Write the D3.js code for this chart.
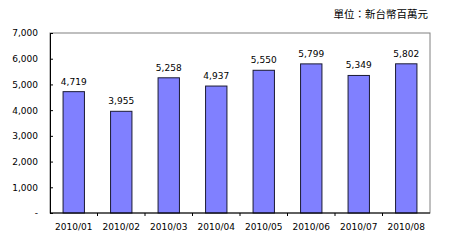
<!DOCTYPE html>
<html>
<head>
<meta charset="utf-8">
<script src="https://cdn.jsdelivr.net/npm/d3@7"></script>
<style>
  body { margin: 0; background: #fff; }
  text { font-family: "DejaVu Sans", sans-serif; font-size: 9px; fill: #000; }
</style>
</head>
<body>
<svg id="chart" width="453" height="247"></svg>
<script>
// ── Data ─────────────────────────────────────────────
const months = ['2010/01', '2010/02', '2010/03', '2010/04', '2010/05', '2010/06', '2010/07', '2010/08'];
const values = [4719, 3955, 5258, 4937, 5550, 5799, 5349, 5802];
const yTicks = [0, 1000, 2000, 3000, 4000, 5000, 6000, 7000];
const unitLabel = '單位：新台幣百萬元';

const svg = d3.select('#chart');
const m = { left: 50, top: 33, right: 430, bottom: 213 };

const x = d3.scaleBand().domain(months).range([m.left, m.right]).paddingInner(0.55).paddingOuter(0.275);
const xOuter = d3.scaleBand().domain(months).range([m.left, m.right]);
const y = d3.scaleLinear().domain([0, 7000]).range([m.bottom, m.top]);

// plot frame
svg.append('rect')
  .attr('x', m.left).attr('y', m.top)
  .attr('width', m.right - m.left).attr('height', m.bottom - m.top)
  .attr('fill', 'none').attr('stroke', '#808080').attr('stroke-width', 1);

// bars
svg.selectAll('.bar')
  .data(values)
  .enter()
  .append('rect')
  .attr('x', (d, i) => x(months[i]))
  .attr('y', d => y(d))
  .attr('width', x.bandwidth())
  .attr('height', d => y(0) - y(d))
  .attr('fill', '#8080ff')
  .attr('stroke', '#1a1a33')
  .attr('stroke-width', 1);

// value labels
svg.selectAll('.val')
  .data(values)
  .enter()
  .append('text')
  .attr('x', (d, i) => x(months[i]) + x.bandwidth() / 2)
  .attr('y', d => y(d) - 7)
  .attr('text-anchor', 'middle')
  .text(d => d3.format(',')(d));

// y axis (small inward ticks)
const yAxis = d3.axisLeft(y).tickValues(yTicks).tickSizeInner(-3).tickSizeOuter(0).tickPadding(12)
  .tickFormat(d => d === 0 ? '-' : d3.format(',')(d));
const gy = svg.append('g').attr('transform', `translate(${m.left},0)`).call(yAxis);
gy.select('.domain').attr('stroke', '#000');
gy.selectAll('.tick line').attr('stroke', '#000');
gy.selectAll('text').style('font-family', '"DejaVu Sans", sans-serif').style('font-size', '9px');

// x axis: labels centered, ticks at category boundaries
const gx = svg.append('g').attr('transform', `translate(0,${m.bottom})`);
gx.append('line')
  .attr('x1', m.left).attr('x2', m.right)
  .attr('stroke', '#000');
gx.selectAll('.xt')
  .data(months.slice(1))
  .enter()
  .append('line')
  .attr('x1', d => xOuter(d)).attr('x2', d => xOuter(d))
  .attr('y1', 0).attr('y2', 3)
  .attr('stroke', '#000');
gx.selectAll('.xl')
  .data(months)
  .enter()
  .append('text')
  .attr('x', d => xOuter(d) + xOuter.bandwidth() / 2)
  .attr('y', 17)
  .attr('text-anchor', 'middle')
  .text(d => d);

// unit label
svg.append('text')
  .attr('x', 428).attr('y', 18)
  .attr('text-anchor', 'end')
  .style('font-family', '"Noto Sans CJK TC", sans-serif')
  .style('font-size', '10.5px')
  .text(unitLabel);
</script>
</body>
</html>
